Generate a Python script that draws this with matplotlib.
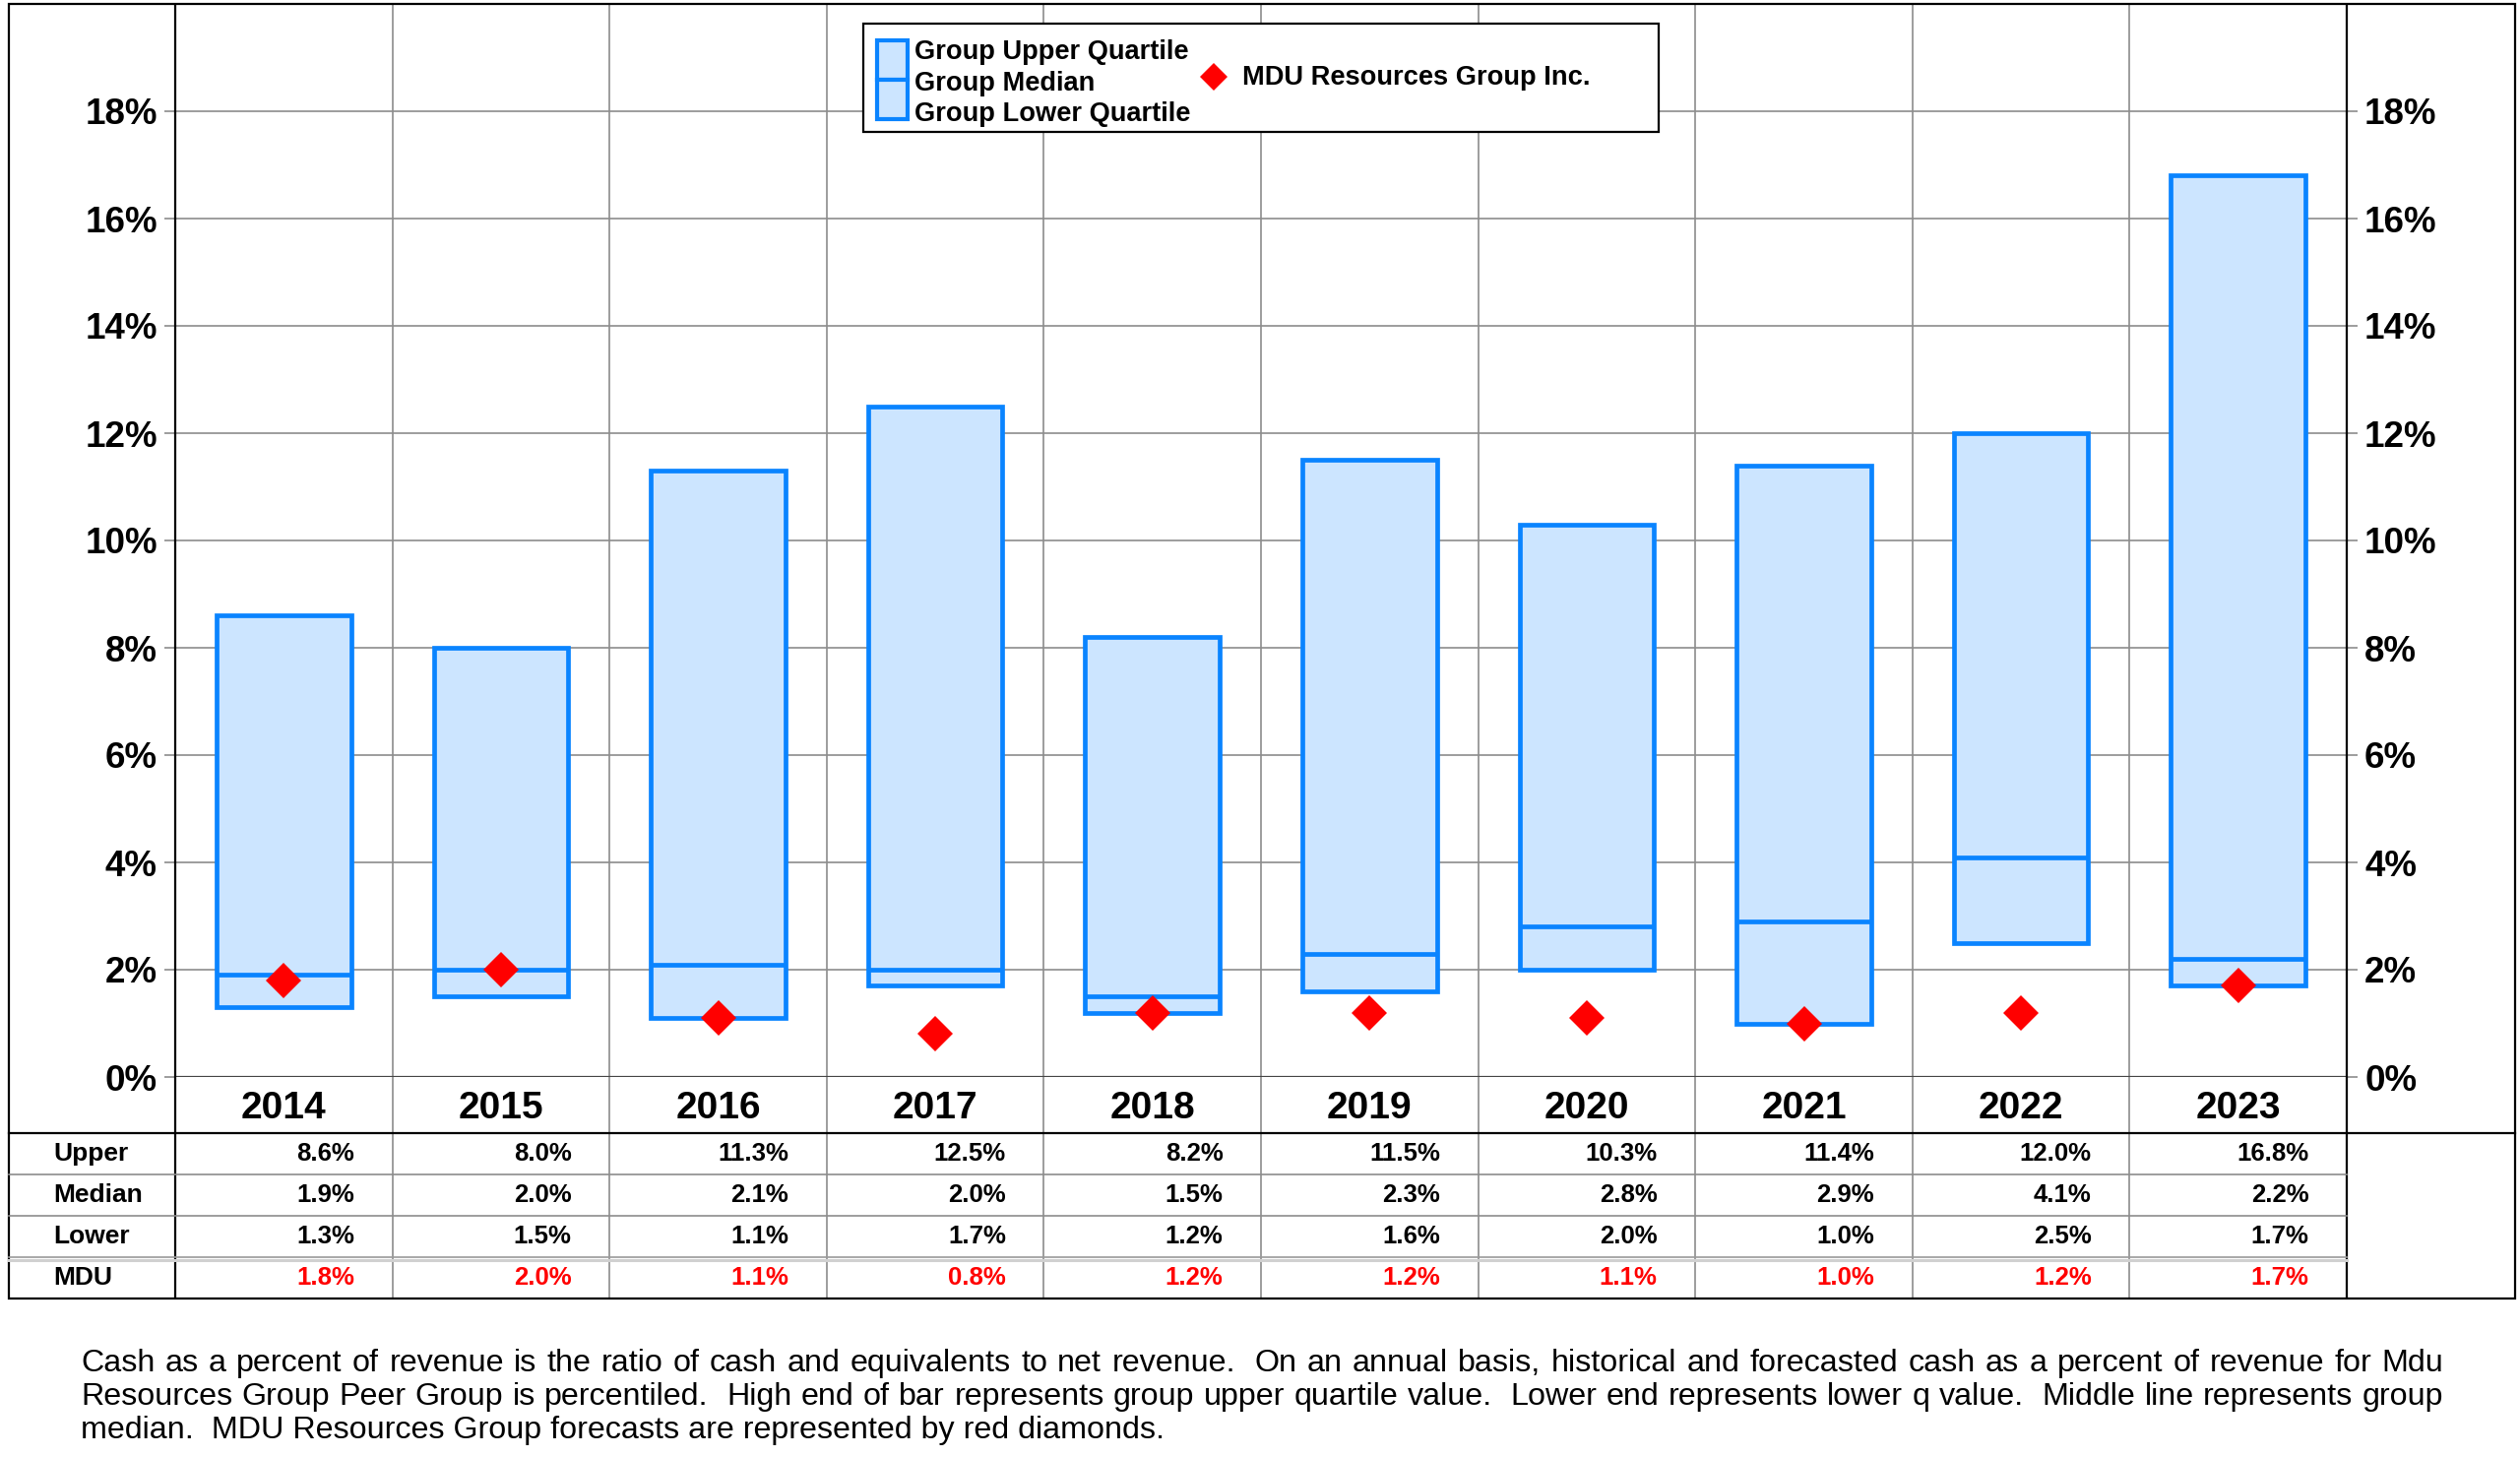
import matplotlib

matplotlib.use("Agg")
import matplotlib.pyplot as plt
from matplotlib.lines import Line2D
from matplotlib.patches import Rectangle
from matplotlib.transforms import blended_transform_factory

# ---- data --------------------------------------------------------------
years = [2014, 2015, 2016, 2017, 2018, 2019, 2020, 2021, 2022, 2023]
upper = [8.6, 8.0, 11.3, 12.5, 8.2, 11.5, 10.3, 11.4, 12.0, 16.8]
median = [1.9, 2.0, 2.1, 2.0, 1.5, 2.3, 2.8, 2.9, 4.1, 2.2]
lower = [1.3, 1.5, 1.1, 1.7, 1.2, 1.6, 2.0, 1.0, 2.5, 1.7]
mdu = [1.8, 2.0, 1.1, 0.8, 1.2, 1.2, 1.1, 1.0, 1.2, 1.7]
row_names = ["Upper", "Median", "Lower", "MDU"]
yticks = [0, 2, 4, 6, 8, 10, 12, 14, 16, 18]
legend_rows = ["Group Upper Quartile", "Group Median", "Group Lower Quartile"]
legend_mdu = "MDU Resources Group Inc."
note_lines = [
    "Cash as a percent of revenue is the ratio of cash and equivalents to net revenue.  "
    "On an annual basis, historical and forecasted cash as a percent of revenue for Mdu",
    "Resources Group Peer Group is percentiled.  High end of bar represents group upper "
    "quartile value.  Lower end represents lower q value.  Middle line represents group",
    "median.  MDU Resources Group forecasts are represented by red diamonds.",
]

# ---- palette -------------------------------------------------------------
FILL = "#cce5ff"
EDGE = "#0a84ff"
RED = "#ff0000"
GRID = "#8c8c8c"
INK = "#000000"

plt.rcParams["font.family"] = ["Liberation Sans", "DejaVu Sans"]

W, H = 2560, 1480
fig = plt.figure(figsize=(W / 100, H / 100), dpi=100)
fig.patch.set_facecolor("white")


def fx(px):
    return px / W


def fy(py):
    return 1 - py / H


# layout, in output pixels
FR_L, FR_T, FR_R, FR_B = 9, 4, 2555, 1319
PL, PR, PT, PB = 178, 2384, 4, 1094
ROWS = [1094, 1151, 1193, 1235, 1277, 1319]

ax = fig.add_axes([fx(PL), fy(PB), fx(PR) - fx(PL), fy(PT) - fy(PB)])
n = len(years)
xs = list(range(n))
ax.set_xlim(-0.5, n - 0.5)
ax.set_ylim(0, 20)
for s in ax.spines.values():
    s.set_visible(False)

# horizontal grid + ticks on both sides
ax.set_yticks(yticks)
ax.set_yticklabels([f"{v}%" for v in yticks], fontsize=26.5, fontweight="bold")
ax.tick_params(axis="y", length=8, width=1.2, color=GRID, pad=5,
               left=True, right=True, labelleft=True, labelright=True)
ax.tick_params(axis="x", bottom=False, labelbottom=False)
ax.grid(axis="y", color=GRID, linewidth=1.2, zorder=0)
ax.set_axisbelow(True)
ax.axhline(0, color="#444444", linewidth=1.6, zorder=2)

# column separators run through the year row and the table
blend = blended_transform_factory(ax.transData, fig.transFigure)
ax.vlines([i + 0.5 for i in xs[:-1]], fy(FR_B), fy(FR_T), transform=blend,
          color=GRID, linewidth=1.2, clip_on=False, zorder=1)
ax.vlines([-0.5, n - 0.5], fy(FR_B), fy(FR_T), transform=blend,
          color=INK, linewidth=1.6, clip_on=False, zorder=6)

# quartile boxes, median lines, MDU diamonds
bw = 0.62
ax.bar(xs, [u - l for u, l in zip(upper, lower)], bottom=lower, width=bw,
       color=FILL, edgecolor=EDGE, linewidth=3.4, zorder=3)
ax.hlines(median, [x - bw / 2 for x in xs], [x + bw / 2 for x in xs],
          color=EDGE, linewidth=3.4, zorder=4)
ax.plot(xs, mdu, "D", markersize=18.5, color=RED, markeredgewidth=0,
        zorder=5, clip_on=False)

# ---- year row + data table --------------------------------------------
for x, yr in zip(xs, years):
    fig.text(x, fy((ROWS[0] + ROWS[1]) / 2 + 3), str(yr), transform=blend,
             ha="center", va="center", fontsize=28, fontweight="bold")

table = [upper, median, lower, mdu]
for r, (name, vals) in enumerate(zip(row_names, table)):
    yc = fy((ROWS[r + 1] + ROWS[r + 2]) / 2)
    color = RED if name == "MDU" else INK
    fig.text(fx(54), yc, name, ha="left", va="center", fontsize=19,
             fontweight="bold")
    for x, v in zip(xs, vals):
        fig.text(x + 0.325, yc, f"{v:.1f}%", transform=blend, ha="right",
                 va="center", fontsize=18.5, fontweight="bold", color=color)

fig.add_artist(Line2D([fx(FR_L), fx(FR_R)], [fy(ROWS[1])] * 2, color=INK,
                      linewidth=1.6))
for yy in ROWS[2:4]:
    fig.add_artist(Line2D([fx(FR_L), fx(PR)], [fy(yy)] * 2, color=GRID,
                          linewidth=1.2))
fig.add_artist(Line2D([fx(FR_L), fx(PR)], [fy(ROWS[4])] * 2, color="#9a9a9a",
                      linewidth=1.2))
fig.add_artist(Line2D([fx(FR_L), fx(PR)], [fy(ROWS[4] + 3)] * 2, color="#d0d0d0",
                      linewidth=2.2))

fig.add_artist(Rectangle((fx(FR_L), fy(FR_B)), fx(FR_R) - fx(FR_L),
                         fy(FR_T) - fy(FR_B), fill=False, edgecolor=INK,
                         linewidth=1.6))

# ---- legend (drawn by hand to match the boxed two-part key) -----------
LG_L, LG_T, LG_R, LG_B = 877, 24, 1685, 134
fig.add_artist(Rectangle((fx(LG_L), fy(LG_B)), fx(LG_R) - fx(LG_L),
                         fy(LG_T) - fy(LG_B), facecolor="white",
                         edgecolor=INK, linewidth=1.6, zorder=10))
for top, bot in [(41, 81), (81, 121)]:
    fig.add_artist(Rectangle((fx(891), fy(bot)), fx(922) - fx(891),
                             fy(top) - fy(bot), facecolor=FILL,
                             edgecolor=EDGE, linewidth=3.0, zorder=11))
for label, yy in zip(legend_rows, [53, 85, 116]):
    fig.text(fx(929), fy(yy), label, ha="left", va="center", fontsize=19.6,
             fontweight="bold", zorder=12)
fig.add_artist(Line2D([fx(1233)], [fy(78)], marker="D", markersize=14,
                      color=RED, markeredgewidth=0, zorder=12))
fig.text(fx(1262), fy(79), legend_mdu, ha="left", va="center", fontsize=19.6,
         fontweight="bold", zorder=12)

# ---- footnote, justified like the original ----------------------------
NOTE_L, NOTE_R = 82, 2482
NOTE_FS = 23.2
renderer = fig.canvas.get_renderer()


def _w(s):
    t = fig.text(0, 0, s, fontsize=NOTE_FS)
    w = t.get_window_extent(renderer).width
    t.remove()
    return w


space_w = _w("a a") - _w("aa")
for i, line in enumerate(note_lines):
    yy = fy(1385 + 34 * i)
    if i == len(note_lines) - 1:
        fig.text(fx(NOTE_L), yy, line, ha="left", va="center", fontsize=NOTE_FS)
        continue
    # empty tokens come from the double spaces after full stops
    tokens = line.split(" ")
    words = [w for w in tokens if w]
    extra = [0.0] * len(words)
    k = -1
    for tok in tokens:
        if tok:
            k += 1
        elif k >= 0:
            extra[k] += space_w
    texts = [fig.text(0, yy, w, ha="left", va="center", fontsize=NOTE_FS)
             for w in words]
    widths = [t.get_window_extent(renderer).width for t in texts]
    gap = (NOTE_R - NOTE_L - sum(widths) - sum(extra[:-1])) / (len(words) - 1)
    pos = NOTE_L
    for t, w, e in zip(texts, widths, extra):
        t.set_x(fx(pos))
        pos += w + gap + e

fig.savefig("out.png", dpi=100, facecolor="white")
